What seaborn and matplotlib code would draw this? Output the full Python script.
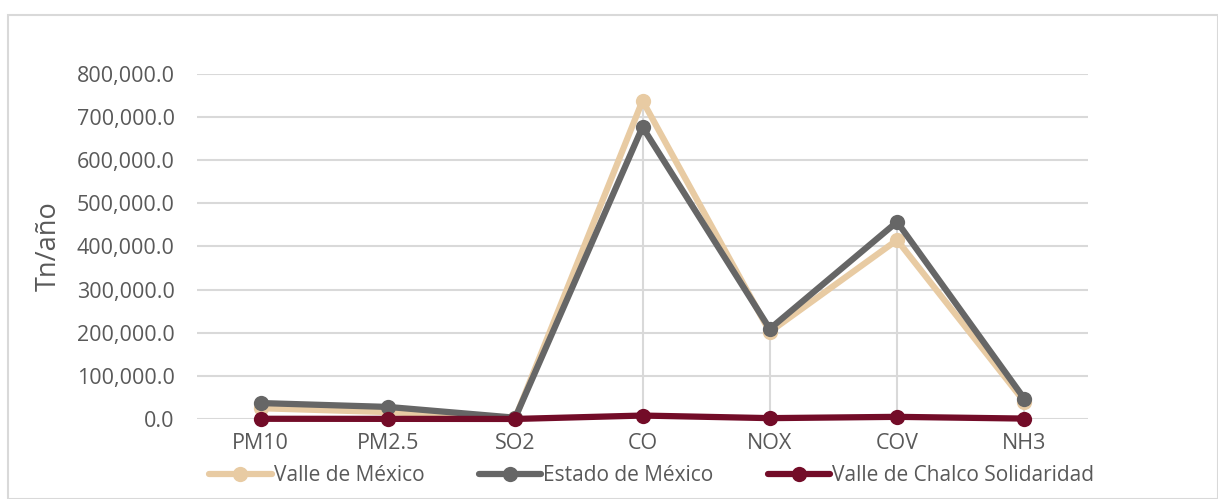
import matplotlib
matplotlib.use("Agg")
import matplotlib.pyplot as plt
import matplotlib.ticker as mticker
import pandas as pd
import seaborn as sns

categories = ["PM10", "PM2.5", "SO2", "CO", "NOX", "COV", "NH3"]
valle_mexico = [25000, 16000, 2000, 738000, 202000, 415000, 40000]
estado_mexico = [37000, 28000, 3000, 677000, 209000, 457000, 47000]
valle_chalco = [500, 300, 100, 8000, 2000, 5000, 1000]
series_names = ["Valle de México", "Estado de México", "Valle de Chalco Solidaridad"]
colors = ["#E8CBA3", "#666666", "#730C28"]

df = pd.DataFrame({
    "cat": categories * 3,
    "val": valle_mexico + estado_mexico + valle_chalco,
    "serie": sum([[n] * len(categories) for n in series_names], []),
})

sns.set_style("white")
plt.rcParams["font.family"] = ["Open Sans", "DejaVu Sans"]

fig = plt.figure(figsize=(12.18, 4.99), dpi=100)
ax = fig.add_axes([197 / 1218, 1 - 419 / 499, 891 / 1218, 345 / 499])

# drop lines from the highest point to the axis
tops = [max(a, b, c) for a, b, c in zip(valle_mexico, estado_mexico, valle_chalco)]
ax.vlines(range(len(categories)), 0, tops, color="#D9D9D9", lw=1.5, zorder=1)

sns.lineplot(data=df, x="cat", y="val", hue="serie", palette=colors, marker="o",
             markersize=11, markeredgewidth=0, linewidth=4.5, sort=False, ax=ax,
             zorder=3, clip_on=False)

ax.set_ylim(0, 800000)
ax.set_xlim(-0.5, len(categories) - 0.5)
ax.yaxis.set_major_locator(mticker.MultipleLocator(100000))
ax.yaxis.set_major_formatter(mticker.StrMethodFormatter("{x:,.1f}"))
ax.grid(axis="y", color="#D9D9D9", lw=1.5)
ax.set_axisbelow(True)
for s in ax.spines.values():
    s.set_visible(False)
ax.tick_params(axis="both", length=0, labelsize=15.5, colors="#595959")
ax.tick_params(axis="y", pad=16)
ax.tick_params(axis="x", pad=10)
ax.set_xlabel("")
ax.set_ylabel("Tn/año", fontsize=19.5, color="#595959", labelpad=10)

handles, labels = ax.get_legend_handles_labels()
ax.get_legend().remove()
fig.legend(handles, labels, loc="center", bbox_to_anchor=(0.535, 0.047), ncol=3,
           frameon=False, fontsize=15, handlelength=3.0, handletextpad=0.1,
           columnspacing=2.6, labelcolor="#595959")

fig.patches.append(plt.Rectangle((8 / 1218, 0), 1 - 8 / 1218, 1 - 15 / 499,
                                 transform=fig.transFigure, fill=False,
                                 edgecolor="#D9D9D9", lw=1.5))

fig.savefig("out.png", dpi=100)
